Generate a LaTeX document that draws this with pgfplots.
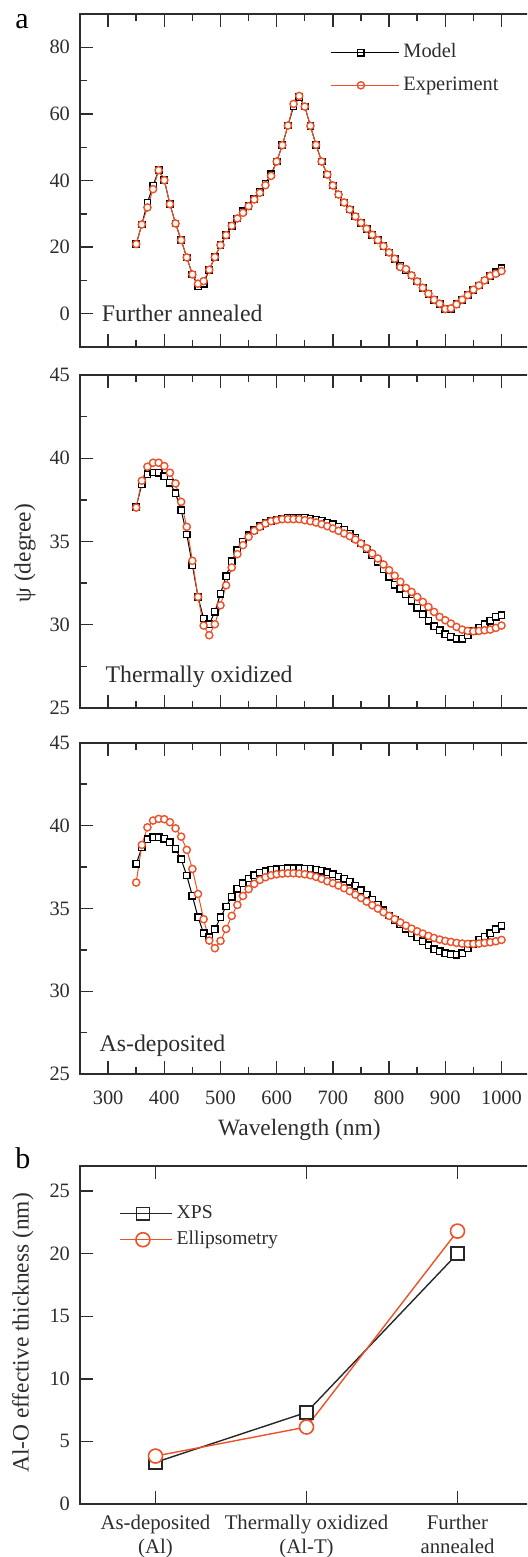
\documentclass[border=0pt]{standalone}
\usepackage{fontspec}
\setmainfont{Liberation Serif}
\usepackage{pgfplots}
\usepackage{pgfplotstable}
\pgfplotsset{compat=1.18}
\definecolor{expred}{RGB}{238,80,40}
\definecolor{axgray}{RGB}{45,45,45}

\pgfplotstableread{
wl model exp
350 20.9 20.9
360 26.8 26.8
370 33.3 31.9
380 38.5 37.4
390 43.1 43.1
400 40.1 40.1
410 32.9 32.9
420 27.1 27.1
430 22.1 22.1
440 16.9 16.9
450 11.8 11.8
460 8.2 9.0
470 9.0 9.8
480 13.2 13.2
490 17.0 17.0
500 20.6 20.6
510 23.6 23.6
520 26.4 26.4
530 28.6 28.6
540 30.8 30.3
550 32.3 32.3
560 34.4 34.3
570 36.6 36.3
580 39.1 38.6
590 41.9 41.4
600 45.7 45.7
610 50.6 50.6
620 56.5 56.5
630 62.2 63.0
640 65.0 65.4
650 62.2 62.2
660 56.4 56.4
670 50.7 50.7
680 45.7 45.7
690 41.8 41.8
700 38.5 38.5
710 35.8 35.8
720 33.4 33.4
730 31.3 31.3
740 29.2 29.2
750 27.3 27.3
760 25.5 25.5
770 23.7 23.7
780 22.1 22.1
790 20.3 20.3
800 18.4 18.4
810 16.5 16.5
820 14.5 14.0
830 13.0 13.4
840 11.5 11.5
850 9.7 9.7
860 7.8 7.8
870 6.0 6.0
880 4.2 4.2
890 3.0 3.0
900 1.4 1.4
910 1.3 1.6
920 2.8 2.8
930 4.2 4.2
940 5.6 5.6
950 7.2 7.2
960 8.5 8.5
970 10.0 10.0
980 11.4 11.4
990 12.5 12.0
1000 13.7 12.8
}\annealed

\pgfplotstableread{
wl model exp
350 37.08 37.04
360 38.43 38.65
370 39.05 39.49
380 39.15 39.73
390 39.13 39.73
400 38.93 39.53
410 38.53 39.13
420 37.89 38.49
430 36.88 37.38
440 35.42 35.88
450 33.58 33.84
460 31.67 31.67
470 30.37 29.95
480 30.03 29.37
490 30.77 30.03
500 31.87 31.17
510 32.92 32.37
520 33.82 33.44
530 34.48 34.24
540 34.98 34.78
550 35.38 35.28
560 35.68 35.64
570 35.92 35.88
580 36.12 36.08
590 36.24 36.22
600 36.32 36.28
610 36.38 36.34
620 36.42 36.34
630 36.44 36.34
640 36.44 36.34
650 36.42 36.28
660 36.38 36.22
670 36.32 36.14
680 36.24 36.04
690 36.14 35.92
700 36.04 35.78
710 35.88 35.64
720 35.72 35.48
730 35.48 35.32
740 35.22 35.12
750 34.88 34.88
760 34.52 34.60
770 34.18 34.28
780 33.78 33.98
790 33.32 33.62
800 32.88 33.28
810 32.41 32.94
820 32.17 32.58
830 31.83 32.21
840 31.43 31.97
850 31.03 31.67
860 30.63 31.37
870 30.23 31.07
880 29.91 30.77
890 29.67 30.47
900 29.43 30.27
910 29.27 30.07
920 29.15 29.87
930 29.15 29.71
940 29.35 29.63
950 29.63 29.61
960 29.83 29.63
970 30.03 29.67
980 30.23 29.71
990 30.47 29.81
1000 30.57 29.95
}\oxidized

\pgfplotstableread{
wl model exp
350 37.68 36.56
360 38.67 38.83
370 39.17 39.89
380 39.29 40.30
390 39.29 40.40
400 39.19 40.38
410 38.99 40.20
420 38.59 39.83
430 37.96 39.33
440 36.98 38.53
450 35.75 37.38
460 34.47 35.87
470 33.50 34.35
480 33.26 33.06
490 33.74 32.60
500 34.47 33.04
510 35.11 33.76
520 35.71 34.55
530 36.18 35.21
540 36.52 35.75
550 36.80 36.16
560 37.00 36.48
570 37.14 36.72
580 37.24 36.88
590 37.32 37.00
600 37.36 37.06
610 37.40 37.10
620 37.42 37.12
630 37.42 37.12
640 37.42 37.10
650 37.40 37.06
660 37.38 37.00
670 37.34 36.90
680 37.28 36.78
690 37.18 36.64
700 37.06 36.52
710 36.92 36.38
720 36.78 36.22
730 36.60 36.04
740 36.36 35.83
750 36.10 35.63
760 35.81 35.41
770 35.51 35.19
780 35.21 34.99
790 34.89 34.77
800 34.57 34.55
810 34.29 34.35
820 34.03 34.15
830 33.76 33.96
840 33.50 33.78
850 33.26 33.62
860 33.02 33.48
870 32.78 33.34
880 32.54 33.22
890 32.42 33.12
900 32.30 33.04
910 32.24 32.98
920 32.20 32.92
930 32.30 32.88
940 32.60 32.86
950 32.84 32.86
960 33.10 32.88
970 33.30 32.92
980 33.50 32.96
990 33.74 33.02
1000 33.94 33.10
}\deposited

\pgfplotstableread{
cat xps ell
0 3.33 3.83
1 7.32 6.15
2 20.0 21.8
}\thick

\tikzset{anno/.style={font=\fontsize{11.9}{14}\selectfont, text=axgray, anchor=west, inner sep=0pt}}

\pgfplotsset{
  common/.style={
    scale only axis,
    axis line style={line width=0.9pt, draw=axgray},
    every tick/.style={line width=0.7pt, draw=axgray},
    major tick length=6.5pt, minor tick length=3.5pt,
    tick align=inside, ytick pos=left, xtick pos=both,
    tick label style={font=\fontsize{10.2}{12}\selectfont, text=axgray},
    /pgf/number format/assume math mode=true,
    /pgf/number format/1000 sep={},
    yticklabel style={xshift=-1.5pt},
    label style={font=\fontsize{11.7}{14}\selectfont, text=axgray},
  },
  psibase/.style={
    common,
    width=224.8pt, height=166.5pt,
    xmin=250, xmax=1050,
    xtick={300,400,...,1000}, minor x tick num=1,
    minor y tick num=1,
    xticklabel style={yshift=-5pt},
  },
  model/.style={black, line width=0.5pt, mark=square*, mark size=1.6pt,
    mark options={fill=white, line width=0.7pt, solid}},
  expt/.style={expred, line width=0.5pt, mark=*, mark size=1.8pt,
    mark options={fill=white, line width=0.7pt, solid}},
}

\begin{document}
\begin{tikzpicture}
\useasboundingbox (0pt,0pt) rectangle (263.5pt,-778.5pt);
\begin{scope}
\clip (0pt,0pt) rectangle (263.5pt,-778.5pt);

% ---------- panel a, top: further annealed
\begin{axis}[psibase,
  at={(40pt,-7pt)}, anchor=north west,
  ymin=-10, ymax=90, ytick={0,20,...,80},
  xticklabels={},
  legend style={at={(axis description cs:0.556,0.924)}, anchor=north west,
    draw=none, fill=none, inner sep=0pt,
    font=\fontsize{10.2}{12}\selectfont, text=axgray,
    nodes={inner sep=2pt, text height=7pt, text depth=2pt},
    row sep=3.3pt},
  legend cell align=left,
  legend image code/.code={
    \draw[#1, mark=none] (0pt,0pt) -- (9.5pt,0pt);
    \draw[#1, mark=none] (21pt,0pt) -- (30.3pt,0pt);
    \draw[#1, only marks] plot coordinates {(15pt,0pt)};
    \path (0pt,0pt) -- (34pt,0pt);
  },
]
\addplot[model] table[x=wl, y=model] {\annealed};
\addlegendentry{Model}
\addplot[expt] table[x=wl, y=exp] {\annealed};
\addlegendentry{Experiment}
\node[anno] at (axis description cs:0.048,0.102) {Further annealed};
\end{axis}

% ---------- panel a, middle: thermally oxidized
\begin{axis}[psibase,
  at={(40pt,-187.5pt)}, anchor=north west,
  ymin=25, ymax=45, ytick={25,30,...,45},
  xticklabels={},
  ylabel={ψ (degree)},
  ylabel style={at={(axis description cs:-0.1223,0.465)}, anchor=center},
]
\addplot[model] table[x=wl, y=model] {\oxidized};
\addplot[expt] table[x=wl, y=exp] {\oxidized};
\node[anno] at (axis description cs:0.056,0.095) {Thermally oxidized};
\end{axis}

% ---------- panel a, bottom: as-deposited
\begin{axis}[psibase,
  at={(40pt,-371.3pt)}, anchor=north west,
  height=165.8pt,
  ymin=25, ymax=45, ytick={25,30,...,45},
  xlabel={Wavelength (nm)},
  xlabel style={at={(axis description cs:0.488,-0.184)}, anchor=base},
]
\addplot[model] table[x=wl, y=model] {\deposited};
\addplot[expt] table[x=wl, y=exp] {\deposited};
\node[anno] at (axis description cs:0.043,0.085) {As-deposited};
\end{axis}

% ---------- panel b
\begin{axis}[common,
  at={(40pt,-583pt)}, anchor=north west,
  width=226.5pt, height=169pt,
  xmin=-0.5, xmax=2.5, ymin=0, ymax=27,
  xtick={0,1,2}, ytick={0,5,...,25},
  xticklabels={{As-deposited\\(Al)},{Thermally oxidized\\(Al-T)},{Further\\annealed}},
  xticklabel style={align=center, font=\fontsize{10.4}{11.8}\selectfont, yshift=-2pt},
  ylabel={Al-O effective thickness (nm)},
  ylabel style={at={(axis description cs:-0.126,0.506)}, anchor=center},
  legend style={at={(axis description cs:0.0868,0.8985)}, anchor=north west,
    draw=none, fill=none, inner sep=0pt,
    font=\fontsize{9.8}{12}\selectfont, text=axgray,
    nodes={inner sep=2pt, text height=7pt, text depth=2pt},
    row sep=0pt},
  legend cell align=left,
  legend image code/.code={
    \draw[mark repeat=2, mark phase=2, #1] plot coordinates {(0pt,0pt) (11.25pt,0pt) (22.5pt,0pt)};
    \path (0pt,0pt) -- (25.8pt,0pt);
  },
]
\addplot[black!85, line width=0.7pt, mark=square*, mark size=3.2pt,
  mark options={fill=white, line width=0.8pt}] table[x=cat, y=xps] {\thick};
\addlegendentry{XPS}
\addplot[expred, line width=0.7pt, mark=*, mark size=3.5pt,
  mark options={fill=white, line width=0.8pt}] table[x=cat, y=ell] {\thick};
\addlegendentry{Ellipsometry}
\end{axis}

\node[font=\fontsize{15}{18}\selectfont, anchor=base west, inner sep=0pt] at (7.5pt,-14.5pt) {a};
\node[font=\fontsize{15}{18}\selectfont, anchor=base west, inner sep=0pt] at (7.5pt,-584pt) {b};
\end{scope}
\end{tikzpicture}
\end{document}
